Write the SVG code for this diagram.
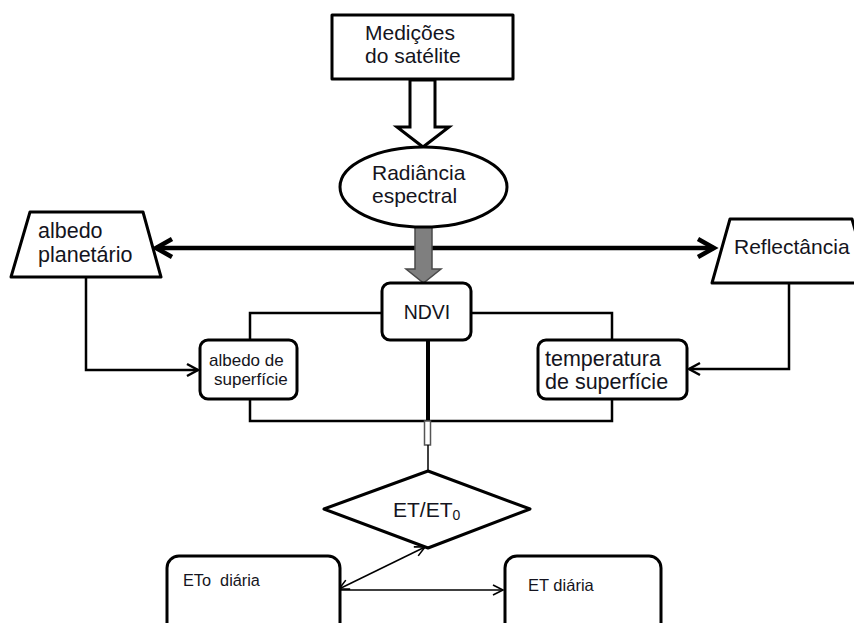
<svg xmlns="http://www.w3.org/2000/svg" width="854" height="623" viewBox="0 0 854 623">
<style>
  .t { font-family: "Liberation Sans", Arial, sans-serif; fill: #141420; }
  .box { fill: #fff; stroke: #000; stroke-width: 3; stroke-linejoin: round; }
  .ln { fill: none; stroke: #000; stroke-width: 2.5; }
  .thin { fill: none; stroke: #000; stroke-width: 1.5; }
</style>
<defs>
  <marker id="chevBig" markerUnits="userSpaceOnUse" markerWidth="24" markerHeight="24" refX="17" refY="9" orient="auto-start-reverse" overflow="visible">
    <path d="M1,0 L17,9 L1,18" fill="none" stroke="#000" stroke-width="4.5" stroke-linejoin="miter"/>
  </marker>
  <marker id="chevMed" markerUnits="userSpaceOnUse" markerWidth="14" markerHeight="14" refX="11" refY="6" orient="auto" overflow="visible">
    <path d="M0,0 L11,6 L0,12" fill="none" stroke="#000" stroke-width="2.5"/>
  </marker>
  <marker id="chevSmall" markerUnits="userSpaceOnUse" markerWidth="12" markerHeight="12" refX="10" refY="5" orient="auto-start-reverse" overflow="visible">
    <path d="M0,0 L10,5 L0,10" fill="none" stroke="#000" stroke-width="1.6"/>
  </marker>
</defs>

<g id="connectors">
  <polygon id="hollow-arrow" points="410,80 435,80 435,127 449,127 423,147 397,127 410,127" fill="#fff" stroke="#000" stroke-width="3" stroke-linejoin="miter"/>
  <line x1="156" y1="248" x2="714" y2="248" stroke="#000" stroke-width="4.5" marker-start="url(#chevBig)" marker-end="url(#chevBig)"/>
  <polygon id="gray-arrow" points="415,227 432,227 432,269 441,269 423.5,283 406,269 415,269" fill="#7f7f7f" stroke="#4a4a4a" stroke-width="1.5"/>
  <path class="ln" d="M86,277 V370 H198" marker-end="url(#chevMed)"/>
  <path class="ln" d="M789,282 V369 H689" marker-end="url(#chevMed)"/>
  <path class="ln" d="M382,313 H250 V340"/>
  <path class="ln" d="M471,313 H612 V340"/>
  <path class="ln" d="M250,399 V421 H612 V399"/>
  <line x1="428" y1="340" x2="428" y2="421" stroke="#000" stroke-width="4"/>
  <rect x="424.5" y="421" width="6" height="24" fill="#fff" stroke="#555" stroke-width="1.5"/>
  <line class="thin" x1="428" y1="445" x2="428" y2="471"/>
  <line class="thin" x1="339" y1="589" x2="425" y2="547" marker-start="url(#chevSmall)" marker-end="url(#chevSmall)"/>
  <line class="thin" x1="340" y1="590" x2="503" y2="590" marker-end="url(#chevSmall)"/>
</g>

<g id="medicoes">
  <rect class="box" x="332" y="15" width="181" height="64" rx="0" stroke-width="3.5"/>
  <text class="t" font-size="21" x="365" y="40">Medições</text>
  <text class="t" font-size="21" x="365" y="63">do satélite</text>
</g>

<g id="radiancia">
  <ellipse class="box" cx="423.5" cy="187" rx="83.5" ry="40"/>
  <text class="t" font-size="21" x="372" y="180">Radiância</text>
  <text class="t" font-size="21" x="372" y="203">espectral</text>
</g>

<g id="albedo-planetario">
  <polygon class="box" points="30,212 143,212 161,277 11,277"/>
  <text class="t" font-size="21.5" x="38" y="238">albedo</text>
  <text class="t" font-size="21.5" x="38" y="262">planetário</text>
</g>

<g id="reflectancia">
  <polygon class="box" points="730,219 852,219 870,283 712,283"/>
  <text class="t" font-size="21" x="734" y="254">Reflectância</text>
</g>

<g id="ndvi">
  <rect class="box" x="382" y="283" width="89" height="57" rx="8"/>
  <text class="t" font-size="19.5" x="427" y="319" text-anchor="middle">NDVI</text>
</g>

<g id="albedo-superficie">
  <rect class="box" x="200" y="340" width="97" height="59" rx="8"/>
  <text class="t" font-size="17" x="209" y="366">albedo de</text>
  <text class="t" font-size="17" x="214" y="385">superfície</text>
</g>

<g id="temperatura">
  <rect class="box" x="538" y="340" width="149" height="59" rx="8"/>
  <text class="t" font-size="21.5" x="545" y="366">temperatura</text>
  <text class="t" font-size="21.5" x="545" y="389">de superfície</text>
</g>

<g id="et-et0">
  <polygon class="box" points="428,471 530,509 428,548 324,509"/>
  <text class="t" font-size="21" x="393" y="517">ET/ET<tspan font-size="14" dy="3">0</tspan></text>
</g>

<g id="eto-diaria">
  <rect class="box" x="167" y="556" width="173" height="100" rx="12"/>
  <text class="t" font-size="16.3" x="183" y="586" style="white-space:pre">ETo  diária</text>
</g>

<g id="et-diaria">
  <rect class="box" x="505" y="556" width="156" height="100" rx="12"/>
  <text class="t" font-size="16.5" x="528" y="591">ET diária</text>
</g>
</svg>
